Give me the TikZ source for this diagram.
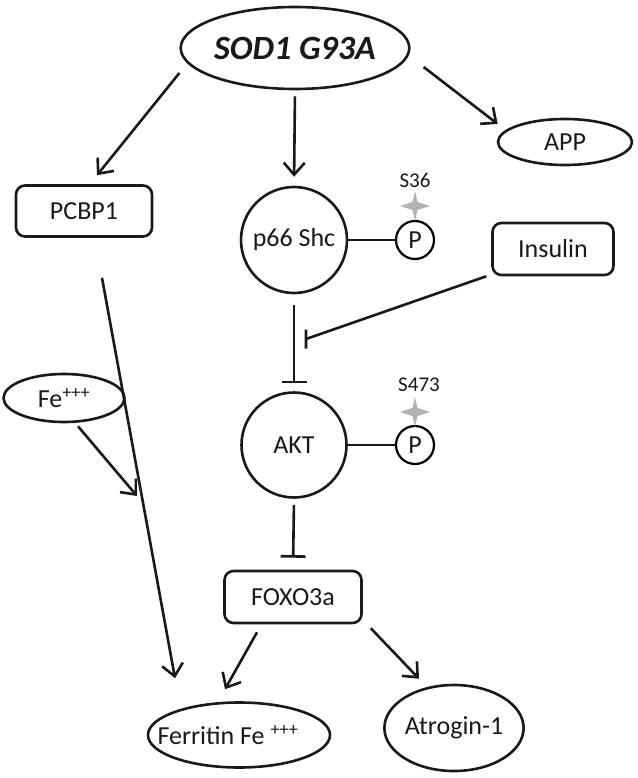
\documentclass[tikz,border=0pt]{standalone}
\usepackage{fontspec}
\setmainfont{Carlito}
\usetikzlibrary{arrows.meta,shapes.geometric}

\begin{document}
\begin{tikzpicture}[x=1pt,y=-1pt,
      lw/.style={line width=2.6pt,color=black!90},
      t/.style={font=\fontsize{26}{30}\selectfont,text=black!90},
      el/.style={lw,draw,ellipse,inner sep=0pt,t},
      bx/.style={lw,draw,rounded corners=9pt,inner sep=0pt,t},
      cc/.style={lw,draw,circle,inner sep=0pt,t},
      ph/.style={line width=2.2pt,draw,circle,inner sep=0pt,minimum size=38pt,t},
      sl/.style={font=\fontsize{21}{24}\selectfont,text=black!90},
      a/.style={lw,-{Straight Barb[length=12pt,width=21pt]}},
      i/.style={lw,-{Bar[width=25pt]}}]
      \useasboundingbox (0,0) rectangle (637,778);
      \node[el,minimum width=204pt,minimum height=82pt,
            font=\fontsize{34}{38}\selectfont\bfseries\itshape] (sod) at (295,48) {SOD1 G93A};
      \node[el,minimum width=134pt,minimum height=46pt] (app) at (565,142) {APP};
      \node[bx,minimum width=136pt,minimum height=51pt] (pcbp) at (84,211) {PCBP1};
      \node[cc,minimum size=106pt] (shc) at (294,240) {p66 Shc};
      \node[ph] (pa) at (415,240) {P};
      \coordinate (sa) at (415,206);
      \node[sl] (s36) at (415,180) {S36};
      \node[bx,minimum width=121pt,minimum height=52pt] (ins) at (553,249) {Insulin};
      \node[el,minimum width=121pt,minimum height=48pt] (fe) at (64,398) {Fe\textsuperscript{+++}};
      \node[cc,minimum size=105pt] (akt) at (294,445) {AKT};
      \node[ph] (pb) at (415,445) {P};
      \coordinate (sb) at (415,412);
      \node[sl] (s473) at (419,385) {S473};
      \node[bx,minimum width=137pt,minimum height=52pt] (foxo) at (293,597) {FOXO3a};
      \node[el,minimum width=182pt,minimum height=65pt] (fer) at (239,735)
            {\makebox[0pt]{Ferritin Fe \textsuperscript{+++}\hspace*{22pt}}};
      \node[el,minimum width=114pt,minimum height=86pt] (atr) at (454,728) {Atrogin-1};
      % phospho sparkles
      \foreach \c in {sa,sb}
        \fill[black!30] (\c) ++(0,-15) -- ++(2.5,11) -- ++(12.5,4) -- ++(-12.5,4)
          -- ++(-2.5,11) -- ++(-2.5,-11) -- ++(-12.5,-4) -- ++(12.5,-4) -- cycle;
      \coordinate (hit) at (306,339);
      \coordinate (join) at (137,496);
      \draw[a] ([yshift=-25pt]sod.west) -- ([shift={(13pt,9pt)}]pcbp.north);
      \draw[a,shorten <=6pt,shorten >=9pt] (sod.south) -- (shc.north);
      \draw[a] ([shift={(13pt,-19pt)}]sod.east) -- ([shift={(1pt,18pt)}]app.west);
      \draw[lw] (shc) -- (pa); \draw[lw] (akt) -- (pb);
      \draw[i,shorten <=11pt,shorten >=8pt] (shc.south) -- (akt.north);
      \draw[lw] ([xshift=-5pt]ins.south west) -- (hit) ++(0,-9.5) -- ++(0,19);
      \draw[i,shorten <=6pt,shorten >=12pt] (akt.south) -- (foxo.north);
      \draw[a] ([shift={(-36pt,-8pt)}]foxo.south) -- ([shift={(-14pt,12pt)}]fer.north);
      \draw[a] ([shift={(8pt,-4pt)}]foxo.south east) -- ([shift={(-35pt,5pt)}]atr.north);
      \draw[a] ([shift={(18pt,-40pt)}]pcbp.south) -- ([shift={(-64pt,23pt)}]fer.north);
      \draw[a] ([shift={(14pt,-3pt)}]fe.south) -- (join);
    \end{tikzpicture}
\end{document}
